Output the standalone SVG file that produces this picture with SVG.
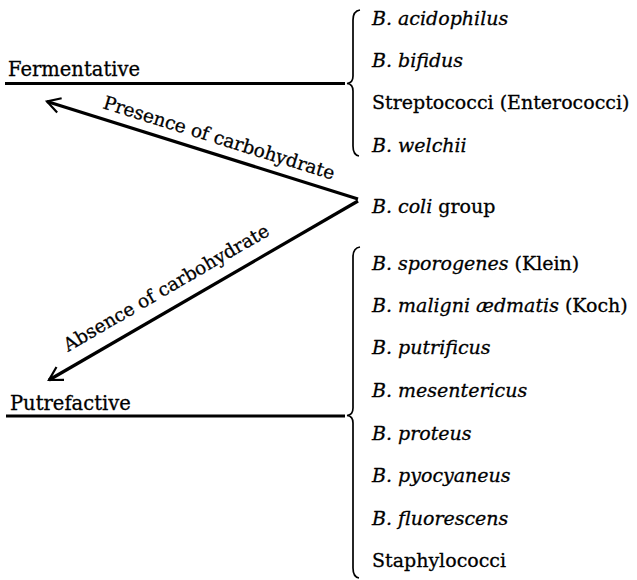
<svg xmlns="http://www.w3.org/2000/svg" width="637" height="580" viewBox="0 0 637 580">
  <style>
    text { font-family: "DejaVu Serif", "Liberation Serif", serif; font-size: 19px; fill: #000; stroke: #000; stroke-width: 0.3; }
    .it { font-style: italic; }
    .lbl { font-size: 19.5px; }
    .al { font-size: 18.5px; }
    .hline { stroke: #000; stroke-width: 2.8; fill: none; }
    .arrow { stroke: #000; stroke-width: 3.2; fill: none; marker-end: url(#open); }
    .brace { stroke: #000; stroke-width: 1.7; fill: none; }
  </style>
  <defs>
    <marker id="open" markerUnits="userSpaceOnUse" orient="auto" refX="0" refY="0" markerWidth="20" markerHeight="20" viewBox="-16 -10 20 20" overflow="visible">
      <path d="M -13 -7.5 L 0 0 L -13 7.5" stroke="#000" stroke-width="2.2" fill="none" stroke-linejoin="miter"/>
    </marker>
  </defs>

  <g id="fermentative">
    <text class="lbl" x="8" y="76">Fermentative</text>
    <line class="hline" x1="5" y1="83.5" x2="345" y2="83.5"/>
    <path class="brace" d="M 360,10 Q 353,11 353,20 L 353,76 Q 353,83 347,83.5 Q 353,84 353,91 L 353,146 Q 353,155 359,156"/>
  </g>

  <g id="fermentative-list">
    <text x="372" y="25"><tspan class="it">B. acidophilus</tspan></text>
    <text x="372" y="67"><tspan class="it">B. bifidus</tspan></text>
    <text x="372" y="109">Streptococci (Enterococci)</text>
    <text x="372" y="152"><tspan class="it">B. welchii</tspan></text>
  </g>

  <g id="coli">
    <text x="372" y="213"><tspan class="it">B. coli</tspan> group</text>
  </g>

  <g id="putrefactive">
    <text class="lbl" x="10" y="410">Putrefactive</text>
    <line class="hline" x1="6" y1="416" x2="345" y2="416"/>
    <path class="brace" d="M 360,247 Q 353,248 353,257 L 353,408 Q 353,415 347,415.5 Q 353,416 353,423 L 353,568 Q 353,577 359,578"/>
  </g>

  <g id="putrefactive-list">
    <text x="372" y="270"><tspan class="it">B. sporogenes</tspan> (Klein)</text>
    <text x="372" y="312"><tspan class="it">B. maligni ædmatis</tspan> (Koch)</text>
    <text x="372" y="354"><tspan class="it">B. putrificus</tspan></text>
    <text x="372" y="397"><tspan class="it">B. mesentericus</tspan></text>
    <text x="372" y="440"><tspan class="it">B. proteus</tspan></text>
    <text x="372" y="482"><tspan class="it">B. pyocyaneus</tspan></text>
    <text x="372" y="525"><tspan class="it">B. fluorescens</tspan></text>
    <text x="372" y="567">Staphylococci</text>
  </g>

  <g id="connectors">
    <line class="arrow" x1="358" y1="199" x2="47" y2="101.5"/>
    <line class="arrow" x1="358" y1="201" x2="49" y2="380"/>
    <text class="al" transform="translate(102,108) rotate(17.3)">Presence of carbohydrate</text>
    <text class="al" transform="translate(68,352) rotate(-30.1)">Absence of carbohydrate</text>
  </g>
</svg>
